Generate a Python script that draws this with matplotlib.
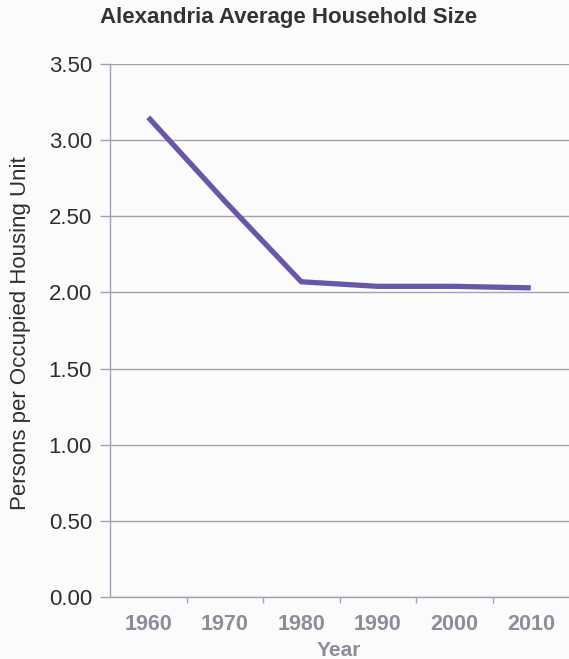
import matplotlib
matplotlib.use("Agg")
import matplotlib.pyplot as plt
from matplotlib.ticker import FixedLocator

years = ["1960", "1970", "1980", "1990", "2000", "2010"]
household_size = [3.15, 2.60, 2.07, 2.04, 2.04, 2.03]
y_ticks = [0.0, 0.5, 1.0, 1.5, 2.0, 2.5, 3.0, 3.5]
title = "Alexandria Average Household Size"
ylabel = "Persons per Occupied Housing Unit"
xlabel = "Year"

plt.rcParams['font.family'] = ['Liberation Sans', 'DejaVu Sans']

bg = '#fcfbfb'
grid_c = '#a99fb5'
line_c = '#6a56a8'
xlab_c = '#8f8c99'

fig = plt.figure(figsize=(5.69, 6.59), dpi=100, facecolor=bg)
ax = fig.add_axes([110/569, 1-597/659, 459/569, 533/659], facecolor=bg)

x = list(range(len(years)))
ax.plot(x, household_size, color=line_c, lw=3.8, solid_capstyle='butt', zorder=3)

ax.set_xlim(-0.5, len(years) - 0.5)
ax.set_ylim(0, 3.5)
ax.set_yticks(y_ticks)
ax.set_yticklabels([f"{v:.2f}" for v in y_ticks])
ax.grid(axis='y', color=grid_c, lw=1.0)
ax.set_axisbelow(True)

ax.set_xticks(x)
ax.set_xticklabels(years)
ax.xaxis.set_minor_locator(FixedLocator([i + 0.5 for i in range(len(years) - 1)]))
ax.tick_params(axis='x', which='major', length=0, pad=12, labelsize=15.5, labelcolor=xlab_c)
ax.tick_params(axis='x', which='minor', length=4, color=grid_c, width=1.0)
for t in ax.get_xticklabels():
    t.set_fontweight('bold')
ax.tick_params(axis='y', length=7, color=grid_c, width=1.0, pad=6, labelsize=16, labelcolor='#2e2e2e')

for s in ['top', 'right']:
    ax.spines[s].set_visible(False)
ax.spines['left'].set_color(grid_c)
ax.spines['bottom'].set_color(grid_c)
ax.spines['left'].set_linewidth(1.0)
ax.spines['bottom'].set_linewidth(1.0)

fig.text(289/569, 1-18/659, title, ha='center', va='center', fontsize=16,
         fontweight='bold', color='#333333')
fig.text(21/569, 1-333/659, ylabel, ha='center', va='center', rotation=90,
         fontsize=16, color='#2e2e2e')
fig.text(339/569, 1-650/659, xlabel, ha='center', va='center', fontsize=15,
         fontweight='bold', color=xlab_c)

fig.savefig('out.png', dpi=100, facecolor=bg)
